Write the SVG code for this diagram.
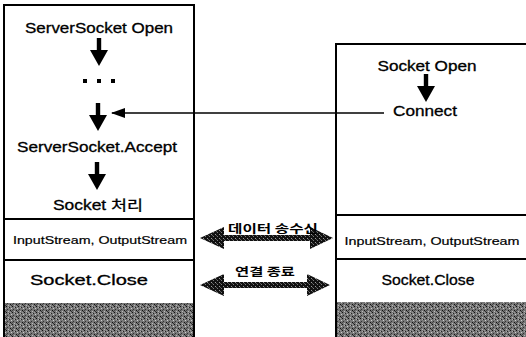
<svg xmlns="http://www.w3.org/2000/svg" width="526" height="337" viewBox="0 0 526 337">
  <style>
    .box { fill: #fff; stroke: #000; stroke-width: 2; }
    .div { stroke: #000; stroke-width: 1.8; }
    .t { font-family: "Liberation Sans", "Noto Sans CJK KR", sans-serif; font-size: 14px; fill: #000; stroke: #000; stroke-width: 0.3; text-anchor: middle; }
    .ts { font-size: 11.5px; stroke-width: 0.2; }
    .k { font-family: "Noto Sans CJK KR", "Liberation Sans", sans-serif; font-weight: bold; font-size: 11px; stroke-width: 0; }
    .link { stroke: #000; stroke-width: 1.3; fill: none; }
    .dark { fill: url(#dither); }
    .band { fill: url(#grain); }
  </style>
  <defs>
    <!-- dithered fill for the thick double arrows -->
    <pattern id="dither" width="4" height="4" patternUnits="userSpaceOnUse">
      <rect width="4" height="4" fill="#111"/>
      <rect x="1" y="0" width="1" height="1" fill="#777"/>
      <rect x="3" y="2" width="1" height="1" fill="#999"/>
      <rect x="0" y="3" width="1" height="1" fill="#555"/>
    </pattern>
    <!-- grainy grey for the bottom bands -->
    <pattern id="grain" width="6" height="6" patternUnits="userSpaceOnUse">
      <rect width="6" height="6" fill="#777"/>
      <rect x="0" y="0" width="1" height="1" fill="#111"/>
      <rect x="3" y="1" width="1" height="1" fill="#222"/>
      <rect x="5" y="2" width="1" height="1" fill="#ccc"/>
      <rect x="1" y="3" width="1" height="1" fill="#333"/>
      <rect x="4" y="4" width="1" height="1" fill="#111"/>
      <rect x="2" y="5" width="1" height="1" fill="#bbb"/>
      <rect x="2" y="1" width="1" height="1" fill="#aaa"/>
      <rect x="5" y="5" width="1" height="1" fill="#333"/>
      <rect x="0" y="4" width="1" height="1" fill="#444"/>
      <rect x="4" y="0" width="1" height="1" fill="#999"/>
    </pattern>
    <!-- short thick downward step arrow, origin at top of shaft -->
    <path id="down" d="M -2.2 0 H 2.2 V 12 H 9 L 0 28 L -9 12 H -2.2 Z" fill="#000"/>
    <marker id="tip" viewBox="0 0 14 10" refX="13" refY="5" markerWidth="14" markerHeight="10" markerUnits="userSpaceOnUse" orient="auto">
      <path d="M 0 0 L 14 5 L 0 10 Z" fill="#000"/>
    </marker>
  </defs>

  <!-- server side -->
  <g id="server">
    <rect class="box" x="4" y="5" width="190" height="340"/>
    <line class="div" x1="4" y1="219" x2="194" y2="219"/>
    <line class="div" x1="4" y1="260" x2="194" y2="260"/>
    <rect class="band" x="5" y="303" width="188" height="34"/>
    <text class="t" x="99" y="33" textLength="148" lengthAdjust="spacingAndGlyphs">ServerSocket Open</text>
    <g fill="#000">
      <rect x="83" y="79" width="4" height="4"/>
      <rect x="97" y="79" width="4" height="4"/>
      <rect x="111" y="79" width="4" height="4"/>
    </g>
    <text class="t" x="97" y="152" textLength="160" lengthAdjust="spacingAndGlyphs">ServerSocket.Accept</text>
    <text class="t" x="98" y="210" textLength="90" lengthAdjust="spacingAndGlyphs">Socket 처리</text>
    <text class="t ts" x="100" y="244" textLength="174" lengthAdjust="spacingAndGlyphs">InputStream, OutputStream</text>
    <text class="t" x="89" y="285" textLength="118" lengthAdjust="spacingAndGlyphs">Socket.Close</text>
  </g>

  <!-- client side -->
  <g id="client">
    <path class="box" d="M 528 44 H 336 V 345 H 528"/>
    <line class="div" x1="336" y1="215" x2="526" y2="215"/>
    <line class="div" x1="336" y1="259" x2="526" y2="259"/>
    <rect class="band" x="337" y="302" width="189" height="35"/>
    <text class="t" x="427" y="71" textLength="99" lengthAdjust="spacingAndGlyphs">Socket Open</text>
    <text class="t" x="425" y="116" textLength="64" lengthAdjust="spacingAndGlyphs">Connect</text>
    <text class="t ts" x="432" y="245" textLength="175" lengthAdjust="spacingAndGlyphs">InputStream, OutputStream</text>
    <text class="t" x="428" y="285" textLength="93" lengthAdjust="spacingAndGlyphs">Socket.Close</text>
  </g>

  <!-- connectors -->
  <g id="connectors">
    <use href="#down" x="99" y="38"/>
    <use href="#down" x="98" y="103"/>
    <use href="#down" x="97" y="162"/>
    <use href="#down" x="426" y="74"/>
    <line class="link" x1="384" y1="113" x2="112" y2="113" marker-end="url(#tip)"/>

    <g id="transfer">
      <path class="dark" d="M 200 238 L 224 227 V 235 H 310 V 227 L 333 238 L 310 249 V 241 H 224 V 249 Z"/>
      <text class="t k" x="273" y="233" textLength="90" lengthAdjust="spacingAndGlyphs">데이터 송수신</text>
    </g>
    <g id="close">
      <path class="dark" d="M 200 285 L 224 274 V 282 H 307 V 274 L 330 285 L 307 296 V 288 H 224 V 296 Z"/>
      <text class="t k" x="265" y="276" textLength="60" lengthAdjust="spacingAndGlyphs">연결 종료</text>
    </g>
  </g>
</svg>
